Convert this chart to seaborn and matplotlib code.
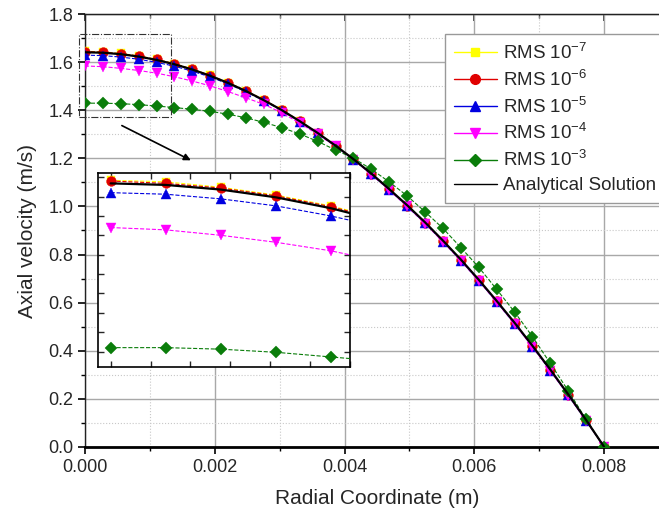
import matplotlib
matplotlib.use('Agg')
import matplotlib.pyplot as plt
from matplotlib.lines import Line2D
from matplotlib.patches import Rectangle
from matplotlib.ticker import MultipleLocator, FormatStrFormatter, NullFormatter
import numpy as np
import pandas as pd
import seaborn as sns

sns.set_style('white')
plt.rcParams.update({'font.family'      : ['Liberation Sans', 'DejaVu Sans'],
                     'mathtext.fontset' : 'custom',
                     'mathtext.rm'      : 'Liberation Sans',
                     'mathtext.it'      : 'Liberation Sans',
                     'mathtext.bf'      : 'Liberation Sans',
                     'xtick.labelsize'  : 13,
                     'ytick.labelsize'  : 13,
                     'axes.labelsize'   : 15})

# radial positions (m)
radius = [0.0, 0.000276, 0.000552, 0.000828, 0.001103, 0.001379, 0.001655, 0.001931,
          0.002207, 0.002483, 0.002759, 0.003034, 0.00331, 0.003586, 0.003862, 0.004138,
          0.004414, 0.00469, 0.004966, 0.005241, 0.005517, 0.005793, 0.006069, 0.006345,
          0.006621, 0.006897, 0.007172, 0.007448, 0.007724, 0.008]

u_analytical = [1.642, 1.640, 1.634, 1.624, 1.610, 1.592, 1.570, 1.544, 1.514, 1.480,
                1.442, 1.401, 1.355, 1.306, 1.253, 1.197, 1.137, 1.072, 1.005, 0.934,
                0.858, 0.779, 0.695, 0.607, 0.516, 0.420, 0.321, 0.218, 0.111, 0.0]
u_rms7 = [1.646, 1.644, 1.637, 1.627, 1.613, 1.595, 1.572, 1.546, 1.516, 1.482,
          1.444, 1.402, 1.356, 1.306, 1.253, 1.197, 1.136, 1.071, 1.004, 0.933,
          0.857, 0.778, 0.694, 0.606, 0.515, 0.419, 0.320, 0.217, 0.110, 0.0]
u_rms6 = [1.645, 1.642, 1.636, 1.626, 1.612, 1.594, 1.571, 1.545, 1.515, 1.481,
          1.443, 1.402, 1.356, 1.306, 1.253, 1.197, 1.136, 1.071, 1.004, 0.933,
          0.857, 0.778, 0.694, 0.606, 0.515, 0.419, 0.320, 0.217, 0.110, 0.0]
u_rms5 = [1.630, 1.628, 1.622, 1.613, 1.600, 1.584, 1.563, 1.539, 1.510, 1.477,
          1.440, 1.399, 1.353, 1.304, 1.251, 1.195, 1.134, 1.069, 1.001, 0.930,
          0.854, 0.775, 0.691, 0.603, 0.512, 0.416, 0.317, 0.214, 0.108, 0.0]
u_rms4 = [1.585, 1.582, 1.575, 1.566, 1.555, 1.540, 1.522, 1.502, 1.478, 1.452,
          1.425, 1.390, 1.347, 1.300, 1.250, 1.194, 1.133, 1.068, 1.000, 0.929,
          0.853, 0.774, 0.690, 0.602, 0.511, 0.415, 0.316, 0.213, 0.107, 0.0]
u_rms3 = [1.430, 1.430, 1.428, 1.424, 1.418, 1.412, 1.404, 1.396, 1.384, 1.369,
          1.350, 1.328, 1.302, 1.271, 1.235, 1.201, 1.155, 1.102, 1.044, 0.978,
          0.909, 0.829, 0.747, 0.655, 0.561, 0.458, 0.347, 0.233, 0.114, 0.0]

labels  = ['RMS 10$^{-7}$', 'RMS 10$^{-6}$', 'RMS 10$^{-5}$', 'RMS 10$^{-4}$', 'RMS 10$^{-3}$']
series  = [u_rms7, u_rms6, u_rms5, u_rms4, u_rms3]
colors  = ['#ffff00', '#e00000', '#0000e0', '#ff00ff', '#0a7d0a']
markers = ['s', 'o', '^', 'v', 'D']
msizes  = [6, 7, 7.5, 7.5, 6]

df = pd.concat([pd.DataFrame({'r': radius, 'u': s, 'case': lab})
                for s, lab in zip(series, labels)])


def draw(ax, lw_an):
    for lab, col, mk, ms in zip(labels, colors, markers, msizes):
        sub = df[df['case'] == lab]
        sns.lineplot(data=sub, x='r', y='u', ax=ax, color=col, marker=mk, markersize=ms,
                     markeredgewidth=0.3, markeredgecolor=col, linestyle='--', lw=0.8,
                     legend=False, zorder=3)
    sns.lineplot(x=radius, y=u_analytical, ax=ax, color='black', lw=lw_an, legend=False, zorder=4)


fig = plt.figure(figsize=(6.59, 5.15), dpi=100)
ax = fig.add_axes([85/659, 68.3/515, 583.9/659, 432.4/515])
draw(ax, 1.6)

ax.set_xlim(0, 0.009)
ax.set_ylim(0, 1.8)
ax.xaxis.set_major_locator(MultipleLocator(0.002))
ax.xaxis.set_minor_locator(MultipleLocator(0.001))
ax.yaxis.set_major_locator(MultipleLocator(0.2))
ax.yaxis.set_minor_locator(MultipleLocator(0.1))
ax.xaxis.set_major_formatter(FormatStrFormatter('%.3f'))
ax.yaxis.set_major_formatter(FormatStrFormatter('%.1f'))
ax.grid(which='major', color='#a8a8a8', lw=1.0, ls='-', zorder=0)
ax.grid(which='minor', color='#c8c8c8', lw=0.8, ls=':', zorder=0)
ax.set_axisbelow(True)
ax.tick_params(which='both', bottom=True, left=True, top=False, direction='out', color='black')
ax.tick_params(which='major', length=5, width=1.2)
ax.tick_params(which='minor', length=3, width=1.0)
for sp in ['left', 'top', 'right']:
    ax.spines[sp].set_color('#222222')
    ax.spines[sp].set_linewidth(1.0)
ax.spines['bottom'].set_color('black')
ax.spines['bottom'].set_linewidth(2.0)
ax.set_xlabel('Radial Coordinate (m)', labelpad=10)
ax.set_ylabel('Axial velocity (m/s)', labelpad=8)

# top axis: inward ticks only
top = ax.secondary_xaxis('top')
top.xaxis.set_major_locator(MultipleLocator(0.002))
top.xaxis.set_minor_locator(MultipleLocator(0.001))
top.xaxis.set_major_formatter(NullFormatter())
top.tick_params(which='major', direction='in', length=5, width=1.2)
top.tick_params(which='minor', direction='in', length=3, width=1.0)
top.spines['top'].set_color('#222222')

# zoom box and arrow
ax.add_patch(Rectangle((-0.0001, 1.374), 0.00143, 0.343, fill=False, ls='-.', lw=0.8,
                       ec='#333333', clip_on=False, zorder=5))
ax.annotate('', xy=(0.00167, 1.187), xytext=(0.00053, 1.342),
            arrowprops=dict(arrowstyle='-|>', color='black', lw=1.2, mutation_scale=10))

handles = [Line2D([], [], color=c, marker=m, markersize=ms, lw=1.0)
           for c, m, ms in zip(colors, markers, msizes)]
handles.append(Line2D([], [], color='black', lw=1.0))
leg = fig.legend(handles, labels + ['Analytical Solution'], loc='upper left',
                 bbox_to_anchor=(436/659, 1 - 25/515), fontsize=13.5, frameon=True,
                 fancybox=False, framealpha=1, edgecolor='#999999', handlelength=2.3,
                 labelspacing=0.36, borderpad=0.45, handletextpad=0.3)

# inset
axin = fig.add_axes([98.3/659, (515 - 367)/515, 251.7/659, 193.7/515])
axin.set_facecolor('white')
draw(axin, 1.6)
axin.set_xlim(-0.000062, 0.0012)
axin.set_ylim(1.405, 1.655)
axin.xaxis.set_major_locator(MultipleLocator(0.0002))
axin.yaxis.set_major_locator(MultipleLocator(0.025))
axin.xaxis.set_major_formatter(NullFormatter())
axin.yaxis.set_major_formatter(NullFormatter())
axin.tick_params(which='major', direction='in', length=4, width=1.0,
                 top=True, bottom=True, left=True, right=True)
axin.set_xlabel('')
axin.set_ylabel('')
for sp in axin.spines.values():
    sp.set_color('black')
    sp.set_linewidth(1.2)

fig.savefig('out.png', dpi=100)
